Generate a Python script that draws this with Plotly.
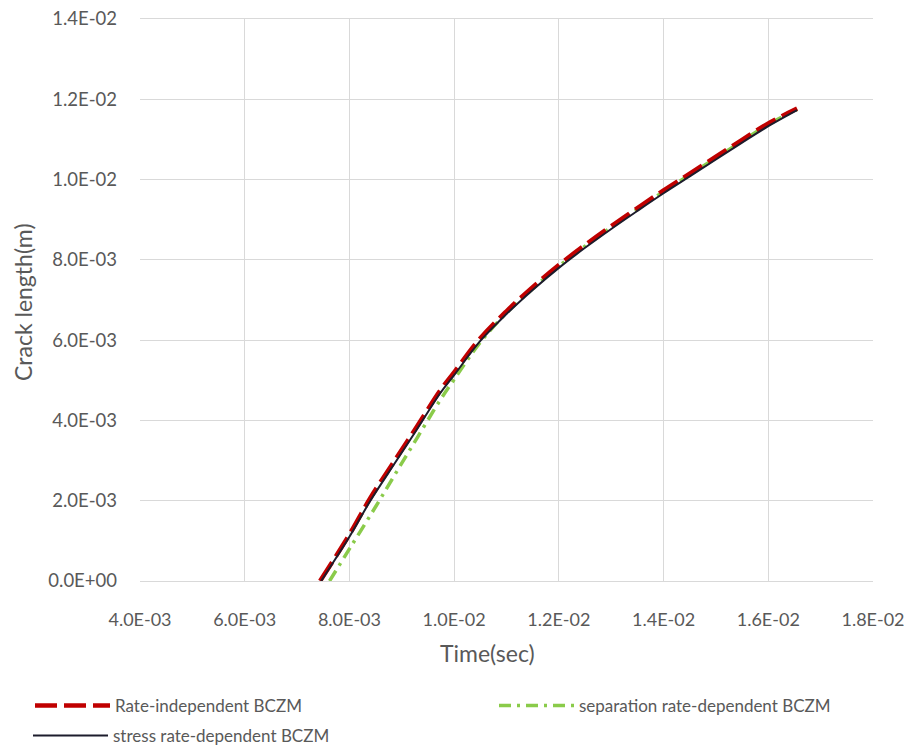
import plotly.graph_objects as go

# ---- data (time in s, crack length in m) ----
time_stress = [7.46e-3, 8.0e-3, 8.4e-3, 8.9e-3, 9.3e-3, 9.73e-3, 10.0e-3, 10.5e-3, 11.0e-3,
               11.5e-3, 12.0e-3, 12.5e-3, 13.0e-3, 13.5e-3, 14.0e-3, 14.5e-3, 15.0e-3,
               15.5e-3, 16.0e-3, 16.55e-3]
len_stress = [0.0, 1.1e-3, 2.0e-3, 3.0e-3, 3.8e-3, 4.67e-3, 5.13e-3, 5.98e-3, 6.65e-3,
              7.25e-3, 7.8e-3, 8.3e-3, 8.77e-3, 9.22e-3, 9.66e-3, 10.08e-3, 10.5e-3,
              10.92e-3, 11.33e-3, 11.73e-3]

time_rate_indep = [7.44e-3, 8.0e-3, 8.4e-3, 8.9e-3, 9.3e-3, 9.73e-3, 10.0e-3, 10.5e-3, 11.0e-3,
                   11.5e-3, 12.0e-3, 12.5e-3, 13.0e-3, 13.5e-3, 14.0e-3, 14.5e-3, 15.0e-3,
                   15.5e-3, 16.0e-3, 16.55e-3]
len_rate_indep = [0.0, 1.16e-3, 2.07e-3, 3.07e-3, 3.87e-3, 4.74e-3, 5.2e-3, 6.05e-3, 6.72e-3,
                  7.32e-3, 7.87e-3, 8.37e-3, 8.84e-3, 9.29e-3, 9.73e-3, 10.15e-3, 10.57e-3,
                  10.99e-3, 11.4e-3, 11.77e-3]

time_sep = [7.62e-3, 8.0e-3, 8.5e-3, 8.9e-3, 9.3e-3, 9.73e-3, 10.0e-3, 10.5e-3, 11.0e-3,
            11.5e-3, 12.0e-3, 12.5e-3, 13.0e-3, 13.5e-3, 14.0e-3, 14.5e-3, 15.0e-3,
            15.5e-3, 16.0e-3, 16.55e-3]
len_sep = [0.0, 0.8e-3, 1.85e-3, 2.72e-3, 3.58e-3, 4.5e-3, 5.02e-3, 5.95e-3, 6.68e-3,
           7.28e-3, 7.84e-3, 8.34e-3, 8.81e-3, 9.26e-3, 9.7e-3, 10.12e-3, 10.54e-3,
           10.96e-3, 11.37e-3, 11.75e-3]

x_tickvals = [4e-3, 6e-3, 8e-3, 1.0e-2, 1.2e-2, 1.4e-2, 1.6e-2, 1.8e-2]
x_ticktext = ["4.0E-03", "6.0E-03", "8.0E-03", "1.0E-02", "1.2E-02", "1.4E-02", "1.6E-02", "1.8E-02"]
y_tickvals = [0, 2e-3, 4e-3, 6e-3, 8e-3, 1.0e-2, 1.2e-2, 1.4e-2]
y_ticktext = ["0.0E+00", "2.0E-03", "4.0E-03", "6.0E-03", "8.0E-03", "1.0E-02", "1.2E-02", "1.4E-02"]

x_title = "Time(sec)"
y_title = "Crack length(m)"

FONT = "Lato, sans-serif"
GREY = "#595959"
OFF = 8                      # page body margin of the html page
W, H = 912 - OFF, 755 - OFF  # figure size so that it fills the window
PL, PR, PT, PB = 140 - OFF, 873 - OFF, 19 - OFF, 581 - OFF   # plot box in figure pixels
PW, PH = PR - PL, PB - PT

def cx(px):   # window pixel -> container fraction (x)
    return (px - OFF) / W

def cy(py):   # window pixel -> container fraction (y, from bottom)
    return (H - (py - OFF)) / H

fig = go.Figure()
fig.add_trace(go.Scatter(
    x=time_sep, y=len_sep, mode="lines", name="separation rate-dependent BCZM",
    line=dict(color="#8acb4a", width=3.5, dash="12px,6px,3px,6px", shape="spline"),
    legend="legend2"))
fig.add_trace(go.Scatter(
    x=time_rate_indep, y=len_rate_indep, mode="lines", name="Rate-independent BCZM",
    line=dict(color="#c00000", width=4.5, dash="22px,7px", shape="spline"),
    legend="legend"))
fig.add_trace(go.Scatter(
    x=time_stress, y=len_stress, mode="lines", name="stress rate-dependent BCZM",
    line=dict(color="#1c1c2c", width=2, shape="spline"),
    legend="legend3"))

leg_common = dict(orientation="h", xref="container", yref="container",
                  xanchor="left", yanchor="middle", itemwidth=75,
                  font=dict(size=17, color=GREY, family=FONT),
                  bgcolor="rgba(0,0,0,0)")

fig.update_layout(
    width=W, height=H,
    paper_bgcolor="white", plot_bgcolor="white",
    margin=dict(l=PL, r=W - PR, t=PT, b=H - PB, autoexpand=False),
    font=dict(family=FONT, color=GREY, size=18),
    showlegend=True,
    legend=dict(x=cx(30), y=cy(706), **leg_common),
    legend2=dict(x=cx(494), y=cy(706), **leg_common),
    legend3=dict(x=cx(28), y=cy(736), **leg_common),
)
fig.add_annotation(text=x_title, xref="paper", yref="paper",
                   x=(487 - OFF - PL) / PW, y=-(653 - OFF - PB) / PH,
                   xanchor="center", yanchor="middle", showarrow=False,
                   font=dict(size=23, color=GREY, family=FONT))
fig.add_annotation(text=y_title, xref="paper", yref="paper",
                   x=-(PL - (23 - OFF)) / PW, y=(PB - (302 - OFF)) / PH,
                   xanchor="center", yanchor="middle", textangle=-90, showarrow=False,
                   font=dict(size=23, color=GREY, family=FONT))

fig.update_xaxes(
    range=[4e-3, 1.8e-2], tickvals=x_tickvals, ticktext=x_ticktext,
    showgrid=True, gridcolor="#d9d9d9", gridwidth=1, zeroline=False,
    showline=True, mirror=True, linecolor="#d9d9d9", linewidth=1, automargin=False,
    ticks="", ticklabelstandoff=22, ticklabeloverflow="allow",
    tickfont=dict(size=18, color=GREY),
)
fig.update_yaxes(
    range=[0, 1.4e-2], tickvals=y_tickvals, ticktext=y_ticktext,
    showgrid=True, gridcolor="#d9d9d9", gridwidth=1, zeroline=False,
    showline=False, automargin=False,
    ticks="", ticklabelstandoff=22, ticklabeloverflow="allow",
    tickfont=dict(size=18.5, color=GREY),
)

fig.write_html("out.html")
